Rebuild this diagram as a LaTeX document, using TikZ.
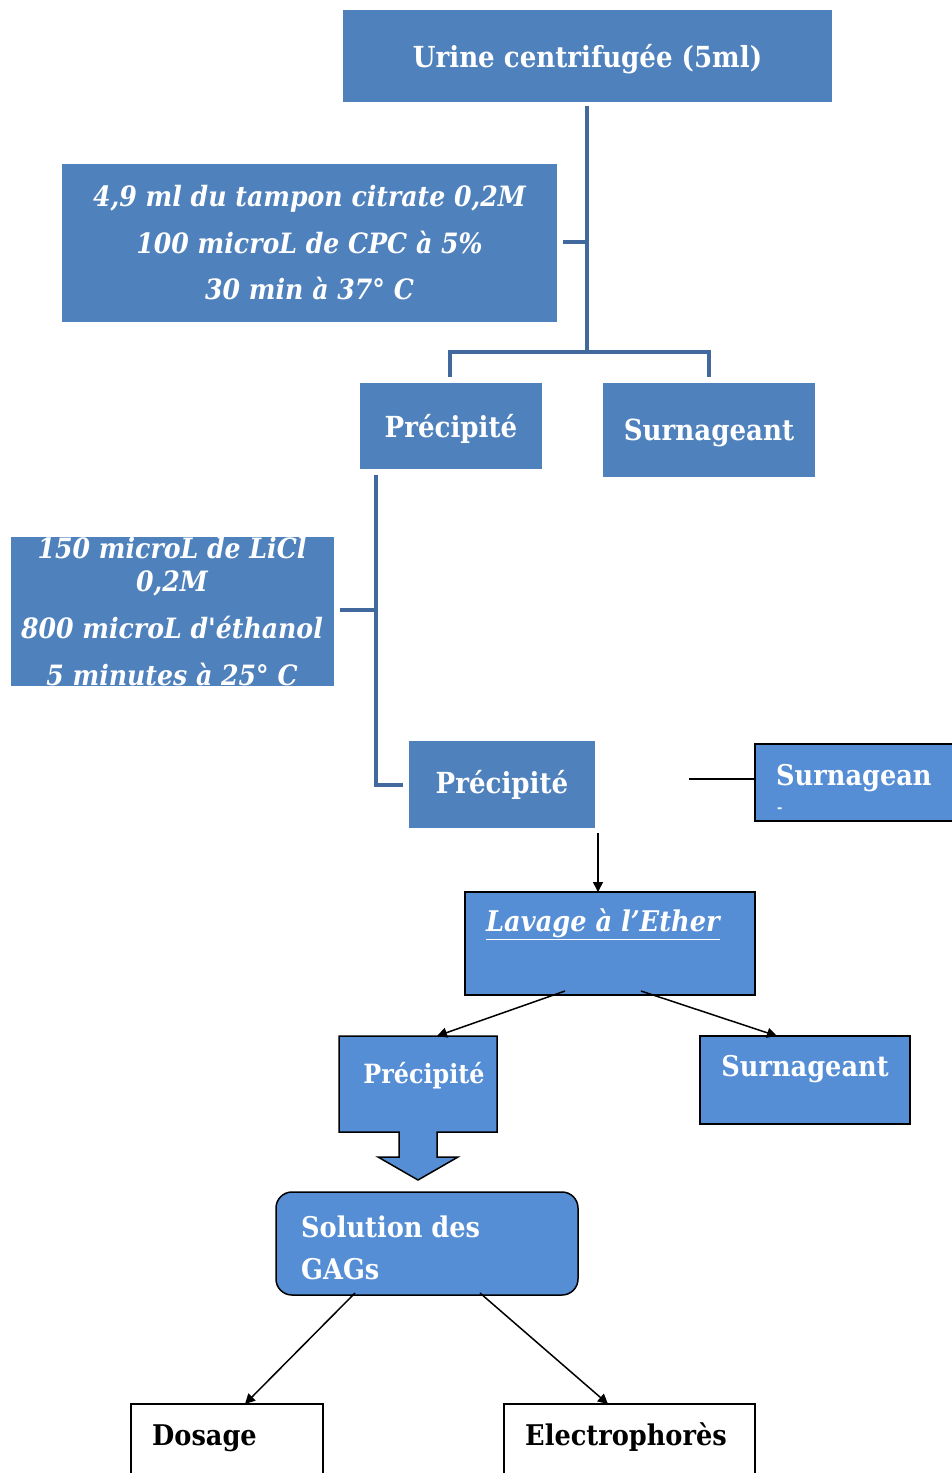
\documentclass[tikz,border=0pt]{standalone}
\usepackage{fontspec}
\setmainfont{DejaVu Serif Condensed}[Ligatures=TeXOff]
\usetikzlibrary{arrows.meta}
\definecolor{boxA}{HTML}{4F81BD}
\definecolor{boxB}{HTML}{558ED5}
\definecolor{lineA}{HTML}{41699D}
\newcommand{\lowerby}[1]{\raisebox{-3pt}[\height][\depth]{#1}}
\begin{document}
\begin{tikzpicture}[x=1pt,y=-1pt,
  bA/.style={fill=boxA, draw=none, inner sep=0pt, outer sep=0pt, text=white, font=\fontsize{29}{36}\selectfont\bfseries},
  bB/.style={fill=boxB, draw=black, line width=1.5pt, inner sep=0pt, outer sep=0pt, text=white, font=\fontsize{28.5}{34}\selectfont\bfseries},
  bW/.style={fill=white, draw=black, line width=1.5pt, inner sep=0pt, outer sep=0pt, text=black, font=\fontsize{28.5}{34}\selectfont\bfseries},
  lowtxt/.style={inner sep=0pt, font=\fontsize{28.5}{34}\selectfont\bfseries},
  conn/.style={draw=lineA, line width=4pt},
  arr/.style={draw=black, line width=1.5pt, -{Triangle[length=10pt,width=10pt]}},
  plain/.style={draw=black, line width=1.5pt}]
\useasboundingbox (0,0) rectangle (952,1473);
% top
\node[bA, minimum width=489pt, minimum height=92pt] (urine) at (587.5,56) {\lowerby{Urine centrifugée (5ml)}};
\node[bA, minimum width=495pt, minimum height=158pt, align=center,
  font=\fontsize{28}{46.5}\selectfont\bfseries\itshape] (tampon) at (309.5,243) {4,9 ml du tampon citrate 0,2M\\100 microL de CPC à 5\%\\30 min à 37° C};
\coordinate (v1a) at (587,106);
\coordinate (v1b) at (587,352);
\coordinate (t1) at (563,242);
\coordinate (t1b) at (587,242);
\node[bA, minimum width=182pt, minimum height=86pt] (prec1) at (451,426) {\lowerby{Précipité}};
\node[bA, minimum width=212pt, minimum height=94pt] (surn1) at (709,430) {\lowerby{Surnageant}};
\draw[conn] (v1a) -- (v1b);
\draw[conn] (t1) -- (t1b);
\draw[conn] (prec1.north -| 450,0) ++(0,-6) |- (v1b) -| ([yshift=6pt]surn1.north);
% second stage
\begin{scope}
\clip (11,537) rectangle (334,686);
\node[bA, minimum width=323pt, minimum height=149pt] (licl) at (172.5,611.5) {};
\node[text=white, align=center, inner sep=0pt, font=\fontsize{28}{33}\selectfont\bfseries\itshape] (licltext) at (172,612) {150 microL de LiCl\\0,2M\\[14pt]800 microL d'éthanol\\[14pt]5 minutes à 25° C};
\end{scope}
\node[bA, minimum width=186pt, minimum height=87pt] (prec2) at (502,784.5) {Précipité};
\coordinate (v2a) at (376,475);
\coordinate (v2c) at (376,610);
\coordinate (t2) at (340,610);
\draw[conn] (v2a) |- ([xshift=-6pt]prec2.west);
\draw[conn] (t2) -- (v2c);
% Surnagean clipped on right
\begin{scope}
\clip (740,730) rectangle (952,840);
\node[bB, minimum width=220pt, minimum height=77pt, anchor=north west] (surn2) at (755,744) {};
\end{scope}
\node[lowtxt, anchor=base west, text=white] (surn2t) at (776,785) {Surnagean};
\node[anchor=base west, text=white, inner sep=0pt, font=\fontsize{14}{16}\selectfont\bfseries] (surn2d) at (777,812) {-};
\coordinate (s2l) at (689,779);
\draw[plain] (s2l) -- (surn2.west |- s2l);
% Lavage
\node[bB, minimum width=290pt, minimum height=103pt] (lav) at (610,943.5) {};
\node[lowtxt, anchor=base west, text=white, font=\fontsize{28.5}{34}\selectfont\bfseries\itshape] (lavt) at (486,931) {\underline{Lavage à l’Ether}};
\coordinate (p2b) at (598,833);
\draw[arr] (p2b) -- (lav.north -| p2b);
% Precipite 3 arrow callout
\path[fill=boxB, draw=black, line width=1.5pt] (339,1036) -- (497,1036) -- (497,1132) -- (437,1132) -- (437,1157) -- (458,1157) -- (418,1180) -- (378,1157) -- (399,1157) -- (399,1132) -- (339,1132) -- cycle;
\node[inner sep=0pt, outer sep=0pt, minimum width=158pt, minimum height=96pt] (prec3) at (418,1084) {};
\node[text=white, inner sep=0pt, font=\fontsize{26.5}{30}\selectfont\bfseries] (prec3t) at (424,1076) {Précipité};
\node[bB, minimum width=210pt, minimum height=88pt] (surn3) at (805,1080) {};
\node[lowtxt, text=white] (surn3t) at (805,1069) {Surnageant};
\coordinate (l1) at (565,991);
\coordinate (l2) at (641,991);
\draw[arr] (l1) -- (prec3.north -| 437,0);
\draw[arr] (l2) -- (surn3.north -| 777,0);
% Solution
\node[bB, rounded corners=16pt, minimum width=302pt, minimum height=103pt] (sol) at (427,1243.5) {};
\node[lowtxt, anchor=north west, text=white, align=left, font=\fontsize{28.5}{42}\selectfont\bfseries] (solt) at (301,1216) {Solution des\\GAGs};
% bottom
\node[bW, minimum width=192pt, minimum height=100pt, anchor=north west] (dos) at (131,1404) {};
\node[lowtxt, anchor=base west] (dost) at (152,1445) {Dosage};
\node[bW, minimum width=251pt, minimum height=100pt, anchor=north west] (elec) at (504,1404) {};
\node[lowtxt, anchor=base west] (elect) at (525,1445) {Electrophorès};
\coordinate (s1) at (355,1293);
\coordinate (s2) at (480,1293);
\draw[arr] (s1) -- (dos.north -| 245,0);
\draw[arr] (s2) -- (elec.north -| 608,0);
\end{tikzpicture}
\end{document}
